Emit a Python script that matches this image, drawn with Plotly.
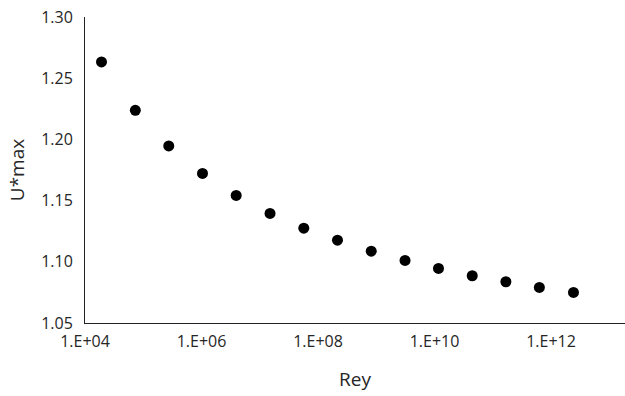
import plotly.graph_objects as go

rey = [1.92e4, 7.31e4, 2.74e5, 1.04e6, 3.94e6, 1.50e7, 5.70e7, 2.16e8,
       8.20e8, 3.12e9, 1.17e10, 4.44e10, 1.68e11, 6.31e11, 2.43e12]
u_max = [1.2633, 1.2238, 1.1947, 1.1722, 1.1542, 1.1395, 1.1275, 1.1177,
         1.1087, 1.1011, 1.0946, 1.0886, 1.0837, 1.0791, 1.0750]

x_tickvals = [1e4, 1e6, 1e8, 1e10, 1e12]
x_ticktext = ["1.E+04", "1.E+06", "1.E+08", "1.E+10", "1.E+12"]
y_tickvals = [1.05, 1.10, 1.15, 1.20, 1.25, 1.30]
y_ticktext = ["1.05", "1.10", "1.15", "1.20", "1.25", "1.30"]

font_family = "Open Sans"
text_color = "#262626"

fig = go.Figure()
fig.add_trace(go.Scatter(
    x=rey, y=u_max, mode="markers",
    marker=dict(size=11, color="black"),
    showlegend=False,
))

fig.update_layout(
    width=625, height=396,
    margin=dict(l=85, r=0, t=17, b=73, autoexpand=False),
    paper_bgcolor="white", plot_bgcolor="white",
    font=dict(family=font_family, size=16, color=text_color),
)
fig.update_xaxes(
    type="log", range=[4, 13.27],
    tickvals=x_tickvals, ticktext=x_ticktext,
    showgrid=False, zeroline=False, automargin=False,
    showline=True, linecolor="#222222", linewidth=1,
    ticks="", ticklabelstandoff=4, ticklabeloverflow="allow",
    title=dict(text="Rey", font=dict(size=19), standoff=21),
)
fig.update_yaxes(
    range=[1.05, 1.30],
    tickvals=y_tickvals, ticktext=y_ticktext,
    showgrid=False, zeroline=False, automargin=True,
    showline=True, linecolor="#222222", linewidth=1,
    ticks="", ticklabelstandoff=8, ticklabeloverflow="allow",
    title=dict(text="U*max", font=dict(size=19), standoff=11),
)

# remove the browser's default 8px body margin so the figure sits at the page origin
fig.write_html(
    "out.html",
    config={"displayModeBar": False},
    post_script="document.body.style.margin='0';",
)
